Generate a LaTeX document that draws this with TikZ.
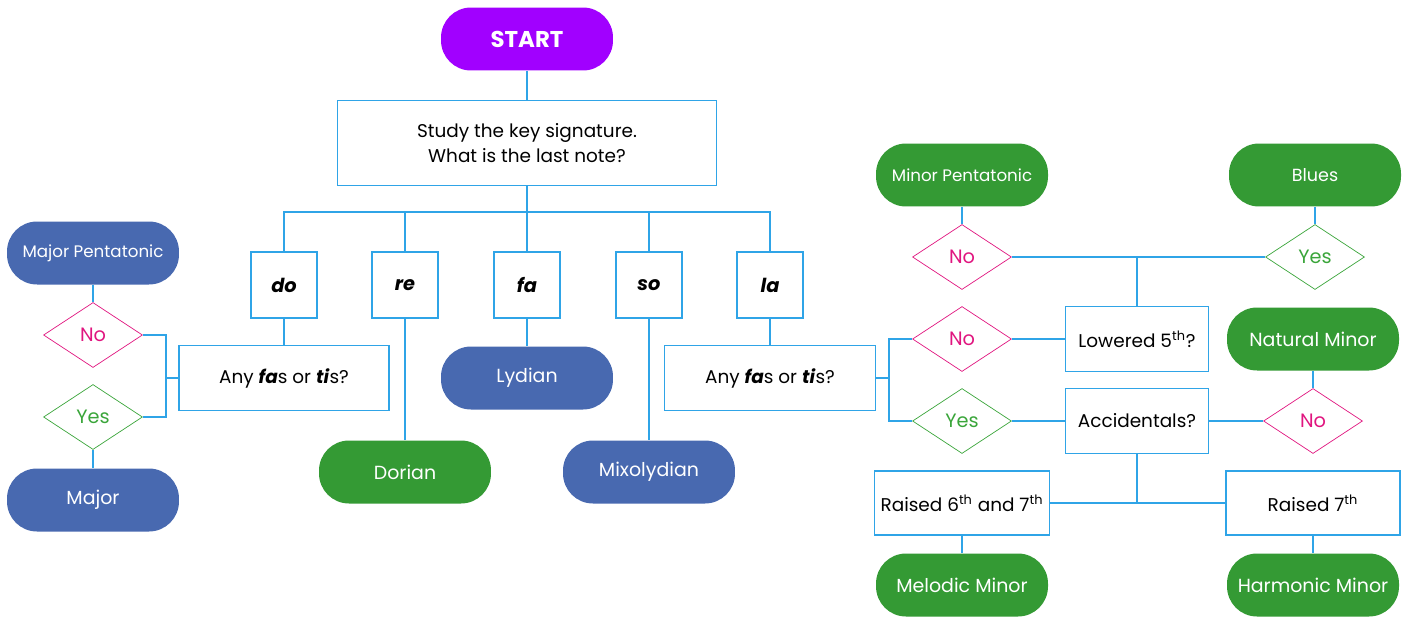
\documentclass[tikz,border=0pt]{standalone}
\usepackage{fontspec}
\setmainfont{Poppins}
\usetikzlibrary{shapes.geometric}
\definecolor{startcol}{HTML}{A100FF}
\definecolor{bluecol}{HTML}{4869B0}
\definecolor{greencol}{HTML}{349A34}
\definecolor{nocol}{HTML}{E0157F}
\definecolor{yescol}{HTML}{3AA53A}
\definecolor{linecol}{HTML}{2FA4E7}

\begin{document}
\begin{tikzpicture}[
    x=0.02cm, y=-0.02cm,
    every node/.style={align=center, font=\fontsize{10.5}{14}\selectfont},
    line/.style={draw=linecol, line width=0.6pt},
    qbox/.style={rectangle, draw=linecol, line width=0.8pt, fill=white, minimum height=1.3cm},
    notebox/.style={qbox, minimum width=1.32cm, minimum height=1.32cm, font=\fontsize{11}{13}\selectfont\bfseries\itshape},
    pill/.style={rectangle, rounded corners=0.6cm, minimum width=3.44cm, minimum height=1.26cm, text=white, font=\fontsize{10.8}{13}\selectfont},
    smallpill/.style={font=\fontsize{9.5}{12}\selectfont},
    bluepill/.style={pill, fill=bluecol},
    greenpill/.style={pill, fill=greencol},
    startpill/.style={pill, fill=startcol, font=\fontsize{13}{15}\selectfont\bfseries},
    nodiam/.style={diamond, draw=nocol, text=nocol, minimum width=1.98cm, minimum height=1.3cm, inner sep=0pt, font=\fontsize{11}{13}\selectfont},
    yesdiam/.style={nodiam, draw=yescol, text=yescol}
]
\useasboundingbox (0,0) rectangle (1412,619);

\node[startpill] (start) at (527,39) {START};
\node[qbox, minimum width=7.58cm, minimum height=1.7cm] (study) at (527,143) {Study the key signature.\\What is the last note?};

\node[notebox] (do) at (284,285) {do};
\node[notebox] (re) at (405,285) {re};
\node[notebox] (fa) at (527,285) {fa};
\node[notebox] (so) at (649,285) {so};
\node[notebox] (la) at (770,285) {la};
\coordinate (bus) at (527,212);

\node[qbox, minimum width=4.2cm] (anyL) at (284,378) {Any \textbf{\textit{fa}}s or \textbf{\textit{ti}}s?};
\node[bluepill, smallpill] (majpent) at (93,253) {Major Pentatonic};
\node[nodiam] (noL) at (93,335) {No};
\node[yesdiam] (yesL) at (93,417) {Yes};
\node[bluepill] (major) at (93,500) {Major};
\coordinate (jL) at (166,378);

\node[greenpill] (dorian) at (405,472) {Dorian};
\node[bluepill] (lydian) at (527,378) {Lydian};
\node[bluepill] (mixo) at (649,472) {Mixolydian};

\node[qbox, minimum width=4.22cm] (anyR) at (770,378) {Any \textbf{\textit{fa}}s or \textbf{\textit{ti}}s?};
\coordinate (jR) at (889,378);
\node[nodiam] (noR) at (962,339) {No};
\node[yesdiam] (yesR) at (962,421) {Yes};
\node[qbox, minimum width=2.86cm] (lowered) at (1137,339) {Lowered 5\textsuperscript{th}?};
\node[qbox, minimum width=2.86cm] (accid) at (1137,421) {Accidentals?};

\node[greenpill, smallpill] (minpent) at (962,175) {Minor Pentatonic};
\node[nodiam] (noMP) at (962,257) {No};
\node[greenpill, font=\fontsize{10}{12}\selectfont] (blues) at (1315,175) {Blues};
\node[yesdiam] (yesB) at (1315,257) {Yes};

\node[greenpill] (natmin) at (1313,339) {Natural Minor};
\node[nodiam] (noNM) at (1313,421) {No};

\node[qbox, minimum width=3.5cm, minimum height=1.28cm] (r67) at (962,503) {Raised 6\textsuperscript{th} and 7\textsuperscript{th}};
\node[qbox, minimum width=3.48cm, minimum height=1.28cm] (r7) at (1313,503) {Raised 7\textsuperscript{th}};
\node[greenpill] (melodic) at (962,585) {Melodic Minor};
\node[greenpill] (harmonic) at (1313,585) {Harmonic Minor};

\draw[line] (start) -- (study);
\draw[line] (study) -- (fa);
\draw[line] (do.north) |- (bus) -| (la.north);
\draw[line] (re.north) -- (re.north |- bus);
\draw[line] (so.north) -- (so.north |- bus);

\draw[line] (do) -- (anyL);
\draw[line] (re) -- (dorian);
\draw[line] (fa) -- (lydian);
\draw[line] (so) -- (mixo);
\draw[line] (la) -- (anyR);

\draw[line] (majpent) -- (noL);
\draw[line] (yesL) -- (major);
\draw[line] (noL.east) -| (jL) |- (yesL.east);
\draw[line] (jL) -- (anyL.west);

\draw[line] (anyR.east) -- (jR);
\draw[line] (noR.west) -| (jR) |- (yesR.west);
\draw[line] (noR) -- (lowered);
\draw[line] (yesR) -- (accid);

\draw[line] (minpent) -- (noMP);
\draw[line] (blues) -- (yesB);
\draw[line] (noMP.east) -- (yesB.west);
\draw[line] (lowered.north) -- (lowered.north |- noMP.east);

\draw[line] (natmin) -- (noNM);
\draw[line] (accid) -- (noNM);
\draw[line] (accid.south) -- (accid.south |- r67.east);
\draw[line] (r67.east) -- (r7.west);
\draw[line] (r67) -- (melodic);
\draw[line] (r7) -- (harmonic);
\end{tikzpicture}
\end{document}
